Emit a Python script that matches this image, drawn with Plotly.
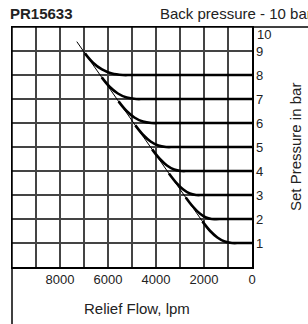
import plotly.graph_objects as go

# Data
flow_ticks = [0, 1000, 2000, 3000, 4000, 5000, 6000, 7000, 8000, 9000, 10000]
flow_tick_labels = ["0", "", "2000", "", "4000", "", "6000", "", "8000", "", ""]
pressure_ticks = [0, 1, 2, 3, 4, 5, 6, 7, 8, 9, 10]
pressure_tick_labels = ["", "1", "2", "3", "4", "5", "6", "7", "8", "9", "10"]

# thin max-flow line (flow lpm, pressure bar)
limit_flow = [7300, 1750]
limit_pressure = [9.39, 1.45]

# set-pressure curves (flow lpm, pressure bar)
curve_8_flow = [6960, 6625, 6250, 5835, 5380, 5000, 0]
curve_8_pressure = [8.9, 8.51, 8.23, 8.06, 8.0, 8.0, 8.0]
curve_7_flow = [6260, 5934, 5588, 5219, 4830, 4450, 0]
curve_7_pressure = [7.9, 7.51, 7.23, 7.06, 7.0, 7.0, 7.0]
curve_6_flow = [5560, 5237, 4900, 4547, 4180, 3800, 0]
curve_6_pressure = [6.9, 6.51, 6.23, 6.06, 6.0, 6.0, 6.0]
curve_5_flow = [4860, 4543, 4225, 3903, 3580, 3200, 0]
curve_5_pressure = [5.9, 5.51, 5.23, 5.06, 5.0, 5.0, 5.0]
curve_4_flow = [4160, 3848, 3543, 3243, 2950, 2600, 0]
curve_4_pressure = [4.9, 4.51, 4.23, 4.06, 4.0, 4.0, 4.0]
curve_3_flow = [3460, 3153, 2863, 2588, 2330, 2000, 0]
curve_3_pressure = [3.9, 3.51, 3.23, 3.06, 3.0, 3.0, 3.0]
curve_2_flow = [2760, 2456, 2175, 1916, 1680, 1350, 0]
curve_2_pressure = [2.9, 2.51, 2.23, 2.06, 2.0, 2.0, 2.0]
curve_1_flow = [2065, 1752, 1443, 1137, 835, 500, 0]
curve_1_pressure = [1.9, 1.51, 1.23, 1.06, 1.0, 1.0, 1.0]

curves = [
    (curve_8_flow, curve_8_pressure),
    (curve_7_flow, curve_7_pressure),
    (curve_6_flow, curve_6_pressure),
    (curve_5_flow, curve_5_pressure),
    (curve_4_flow, curve_4_pressure),
    (curve_3_flow, curve_3_pressure),
    (curve_2_flow, curve_2_pressure),
    (curve_1_flow, curve_1_pressure),
]

FONT = "Liberation Sans, Arial, sans-serif"
TXT = "#222"

W, H = 308, 324
L, T = 12, 27
PW = PH = 240

fig = go.Figure()
fig.add_trace(go.Scatter(x=limit_flow, y=limit_pressure, mode="lines",
                         line=dict(color="black", width=1),
                         hoverinfo="skip", showlegend=False))
for fx, py in curves:
    fig.add_trace(go.Scatter(x=fx, y=py, mode="lines",
                             line=dict(color="black", width=2.6, shape="spline", smoothing=1),
                             hoverinfo="skip", showlegend=False))

# top label "10" sits a little below the frame line in the reference
shown_labels = pressure_tick_labels[:-1] + [""]

fig.update_layout(
    width=W, height=H,
    margin=dict(l=L, r=W - L - PW, t=T, b=H - T - PH, autoexpand=False),
    paper_bgcolor="white", plot_bgcolor="white",
    font=dict(family=FONT, size=13, color=TXT),
    showlegend=False,
    xaxis=dict(range=[10000, 0], tickvals=flow_ticks, ticktext=flow_tick_labels,
               showgrid=True, gridcolor="#444", gridwidth=1.2,
               showline=True, linecolor="black", linewidth=1.5, mirror=True,
               zeroline=False, ticks="", tickfont=dict(size=13, color=TXT),
               automargin=False),
    yaxis=dict(range=[0, 10], side="right", tickvals=pressure_ticks, ticktext=shown_labels,
               showgrid=True, gridcolor="#444", gridwidth=1.2,
               showline=True, linecolor="black", linewidth=1.5, mirror=True,
               zeroline=False, ticks="", tickfont=dict(size=13, color=TXT),
               automargin=False),
    annotations=[
        dict(text="<b>PR15633</b>", x=0, y=1.0, xref="paper", yref="paper",
             xanchor="left", yanchor="middle", xshift=-4, yshift=14, showarrow=False,
             font=dict(size=15, color=TXT, family=FONT)),
        dict(text="Back pressure - 10 bar", x=148 / PW, y=1.0, xref="paper", yref="paper",
             xanchor="left", yanchor="middle", xshift=-2, yshift=14, showarrow=False,
             font=dict(size=15, color=TXT, family=FONT)),
        dict(text=pressure_tick_labels[-1], x=1.0, y=pressure_ticks[-1], xref="paper", yref="y",
             xanchor="left", yanchor="middle", xshift=3, yshift=-7, showarrow=False,
             font=dict(size=13, color=TXT, family=FONT)),
        dict(text="Relief Flow, lpm", x=125 / PW, y=-41 / PH,
             xref="paper", yref="paper", xanchor="center", yanchor="middle", showarrow=False,
             font=dict(size=15, color=TXT, family=FONT)),
        dict(text="Set Pressure in bar", x=283 / PW, y=0.5, textangle=-90,
             xref="paper", yref="paper", xanchor="center", yanchor="middle", showarrow=False,
             font=dict(size=15, color=TXT, family=FONT)),
    ],
    shapes=[
        dict(type="line", xref="paper", yref="paper", x0=0, x1=(W - L) / PW, y0=1, y1=1,
             line=dict(color="black", width=1.5)),
        dict(type="line", xref="paper", yref="paper", x0=0, x1=0, y0=1, y1=-(H - T - PH) / PH,
             line=dict(color="black", width=1.5)),
    ],
)

# remove the default 8px page margin so the figure fills the window exactly
fig.write_html("out.html", config={"displayModeBar": False, "staticPlot": True},
               post_script="document.body.style.margin='0px';document.body.style.overflow='hidden';")
